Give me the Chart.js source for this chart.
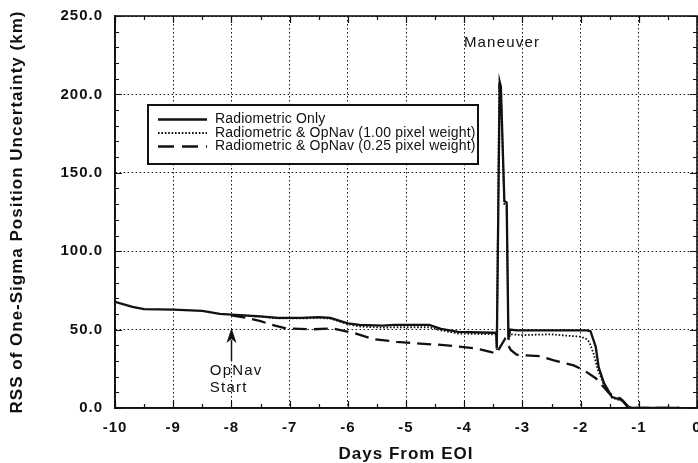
<!DOCTYPE html>
<html>
<head>
<meta charset="utf-8">
<script src="https://cdn.jsdelivr.net/npm/chart.js@4.4.0/dist/chart.umd.min.js"></script>
<style>
  html, body { margin: 0; padding: 0; background: #fff; }
</style>
</head>
<body>
<canvas id="chart" width="698" height="463"></canvas>
<script>
// days from EOI / RSS one-sigma position uncertainty (km)
const radioDays   = [-10, -9.7, -9.5, -9.0, -8.5, -8.2, -8.0, -7.5, -7.2, -6.8, -6.5, -6.3, -6.0, -5.8, -5.4, -5.2, -4.6, -4.4, -4.1, -3.5, -3.45, -3.44, -3.39, -3.37, -3.31, -3.27, -3.24, -3.21, -3.1, -2.5, -1.9, -1.83, -1.74, -1.69, -1.6, -1.46, -1.28, -1.17, -1.1, -0.3];
const radioValues = [67.7, 64.5, 63, 62.8, 62, 60, 59.6, 58.5, 57.5, 57.5, 58, 57.5, 54, 53, 52.5, 53, 53, 50.5, 48.5, 48, 48, 38, 208, 205, 132, 131, 44, 50, 49.5, 49.5, 49.5, 49, 39, 26, 16, 7, 5, 0.5, 0, 0];

const opnav100Days   = [-8.0, -7.5, -7.2, -6.8, -6.5, -6.3, -6.0, -5.8, -5.4, -5.2, -4.6, -4.4, -4.1, -3.5, -3.45, -3.44, -3.40, -3.37, -3.31, -3.27, -3.24, -3.21, -3.0, -2.5, -2.2, -2.0, -1.9, -1.85, -1.78, -1.7, -1.6, -1.46, -1.28, -1.17, -1.1, -0.3];
const opnav100Values = [59.4, 58.2, 57.1, 57.1, 57.5, 57, 53.5, 52, 51.2, 51.5, 51.5, 49.5, 47.5, 47, 47, 37, 204, 200, 130, 129, 43, 47, 46.5, 47, 46, 45.5, 44, 42, 35, 24, 15, 6.5, 4.5, 0.3, 0, 0];

const opnav025Days   = [-8.0, -7.75, -7.5, -7.25, -7.05, -6.6, -6.25, -5.9, -5.56, -5.16, -4.76, -4.3, -3.8, -3.55, -3.45, -3.3, -3.2, -3.1, -2.69, -2.46, -2.12, -1.94, -1.74, -1.51, -1.31, -1.2, -1.1, -0.3];
const opnav025Values = [59, 57.5, 55.4, 52.5, 50.7, 50.2, 50.7, 47.9, 43.9, 42.2, 41.1, 40, 38, 35.8, 34.7, 44, 37, 34, 33, 30.4, 27.2, 24, 19, 9.4, 6, 1, 0, 0];

const seriesLabels = [
  'Radiometric Only',
  'Radiometric & OpNav (1.00 pixel weight)',
  'Radiometric & OpNav (0.25 pixel weight)'
];

const dayTicks = [-10, -9, -8, -7, -6, -5, -4, -3, -2, -1, 0];
const kmTicks = [0, 50, 100, 150, 200, 250];
const minorDayStep = 0.5;
const minorKmStep = 10;

const toPoints = (xs, ys) => xs.map((x, i) => ({ x: x, y: ys[i] }));

const INK = '#111';
const FONT = '"Liberation Sans", Arial, sans-serif';

// ticks on all four sides (inward) plus the frame
const frameTicks = {
  id: 'frameTicks',
  beforeDraw(chart) {
    chart.ctx.letterSpacing = '1px';
  },
  afterDatasetsDraw(chart) {
    const { ctx, chartArea: a, scales: { x, y } } = chart;
    ctx.save();
    ctx.strokeStyle = INK;
    ctx.lineWidth = 1.2;
    ctx.setLineDash([]);
    ctx.beginPath();
    for (let d = dayTicks[0]; d <= dayTicks[dayTicks.length - 1]; d += minorDayStep) {
      const px = Math.round(x.getPixelForValue(d)) + 0.5;
      const len = dayTicks.includes(d) ? 7 : 4;
      ctx.moveTo(px, a.bottom); ctx.lineTo(px, a.bottom - len);
      ctx.moveTo(px, a.top); ctx.lineTo(px, a.top + len);
    }
    for (let v = kmTicks[0]; v <= kmTicks[kmTicks.length - 1]; v += minorKmStep) {
      const py = Math.round(y.getPixelForValue(v)) + 0.5;
      const len = kmTicks.includes(v) ? 7 : 4;
      ctx.moveTo(a.left, py); ctx.lineTo(a.left + len, py);
      ctx.moveTo(a.right, py); ctx.lineTo(a.right - len, py);
    }
    ctx.stroke();
    ctx.lineWidth = 1.6;
    ctx.strokeRect(a.left, a.top, a.right - a.left, a.bottom - a.top);
    ctx.restore();
  }
};

// boxed legend and the two text notes
const notes = {
  id: 'notes',
  afterDraw(chart) {
    const { ctx, chartArea: a, scales: { x, y } } = chart;
    ctx.save();
    ctx.fillStyle = INK;
    ctx.strokeStyle = INK;

    // legend box
    const bx = a.left + 33, by = a.top + 89, bw = 330, bh = 59;
    ctx.fillStyle = '#fff';
    ctx.fillRect(bx, by, bw, bh);
    ctx.lineWidth = 2;
    ctx.setLineDash([]);
    ctx.strokeRect(bx, by, bw, bh);
    ctx.letterSpacing = '0.2px';
    ctx.font = '14px ' + FONT;
    ctx.textBaseline = 'middle';
    ctx.textAlign = 'left';
    const rows = [14.5, 28, 41.5];
    chart.data.datasets.forEach((ds, i) => {
      const ry = by + rows[i];
      ctx.beginPath();
      ctx.lineWidth = ds.borderWidth;
      ctx.setLineDash(ds.legendDash || ds.borderDash || []);
      ctx.moveTo(bx + 10, ry);
      ctx.lineTo(bx + 59, ry);
      ctx.stroke();
      ctx.setLineDash([]);
      ctx.fillStyle = INK;
      ctx.fillText(ds.label, bx + 67, ry);
    });

    // Maneuver
    ctx.letterSpacing = '1.2px';
    ctx.font = '15px ' + FONT;
    ctx.textAlign = 'center';
    ctx.fillText('Maneuver', x.getPixelForValue(-3.35), y.getPixelForValue(233));

    // OpNav start arrow
    const ax = Math.round(x.getPixelForValue(-8)) + 0.5;
    const tip = y.getPixelForValue(51);
    const tail = y.getPixelForValue(30);
    ctx.lineWidth = 1.5;
    ctx.beginPath();
    ctx.moveTo(ax, tip + 12);
    ctx.lineTo(ax, tail);
    ctx.stroke();
    ctx.beginPath();
    ctx.moveTo(ax, tip);
    ctx.lineTo(ax - 5, tip + 15);
    ctx.lineTo(ax, tip + 11);
    ctx.lineTo(ax + 5, tip + 15);
    ctx.closePath();
    ctx.fill();
    ctx.textAlign = 'left';
    const tx = x.getPixelForValue(-8.37);
    ctx.fillText('OpNav', tx, y.getPixelForValue(24));
    ctx.fillText('Start', tx, y.getPixelForValue(13));
    ctx.restore();
  }
};

const ctx = document.getElementById('chart').getContext('2d');
const chart = new Chart(ctx, {
  type: 'line',
  data: {
    datasets: [{
      label: seriesLabels[0],
      data: toPoints(radioDays, radioValues),
      borderColor: INK,
      borderWidth: 2.3,
      borderDash: []
    }, {
      label: seriesLabels[1],
      data: toPoints(opnav100Days, opnav100Values),
      borderColor: INK,
      borderWidth: 1.8,
      borderDash: [1.6, 1.8]
    }, {
      label: seriesLabels[2],
      data: toPoints(opnav025Days, opnav025Values),
      borderColor: INK,
      borderWidth: 2.3,
      borderDash: [14, 7],
      legendDash: [16, 8]
    }]
  },
  options: {
    responsive: false,
    animation: false,
    layout: { padding: { top: 16, right: 1, left: 0, bottom: 0 } },
    elements: {
      point: { radius: 0 },
      line: { tension: 0, fill: false, borderCapStyle: 'butt' }
    },
    plugins: {
      legend: { display: false },
      tooltip: { enabled: false }
    },
    scales: {
      x: {
        type: 'linear',
        min: dayTicks[0],
        max: dayTicks[dayTicks.length - 1],
        afterBuildTicks: (scale) => { scale.ticks = dayTicks.map(v => ({ value: v })); },
        afterFit: (scale) => { scale.height = 55; scale.paddingLeft = 0; scale.paddingRight = 0; },
        grid: { color: INK, lineWidth: 1, drawTicks: false },
        border: { display: true, color: INK, width: 1.6, dash: [1.5, 2.5] },
        ticks: {
          padding: 11,
          color: INK,
          maxRotation: 0,
          autoSkip: false,
          font: { family: FONT, size: 15, weight: 'bold' },
          callback: (v) => String(v)
        },
        title: {
          display: true,
          text: 'Days From EOI',
          color: INK,
          padding: 0,
          font: { family: FONT, size: 17, weight: 'bold', lineHeight: 1 }
        }
      },
      y: {
        min: kmTicks[0],
        max: kmTicks[kmTicks.length - 1],
        afterBuildTicks: (scale) => { scale.ticks = kmTicks.map(v => ({ value: v })); },
        afterFit: (scale) => { scale.width = 115; scale.paddingTop = 0; scale.paddingBottom = 0; },
        grid: { color: INK, lineWidth: 1, drawTicks: false },
        border: { display: true, color: INK, width: 1.6, dash: [1.5, 2.5] },
        ticks: {
          padding: 12,
          color: INK,
          font: { family: FONT, size: 15, weight: 'bold' },
          callback: (v) => v.toFixed(1)
        },
        title: {
          display: true,
          text: 'RSS of One-Sigma Position Uncertainty (km)',
          color: INK,
          padding: { top: 8.5, bottom: 0 },
          font: { family: FONT, size: 17, weight: 'bold', lineHeight: 1 }
        }
      }
    }
  },
  plugins: [frameTicks, notes]
});
</script>
</body>
</html>
